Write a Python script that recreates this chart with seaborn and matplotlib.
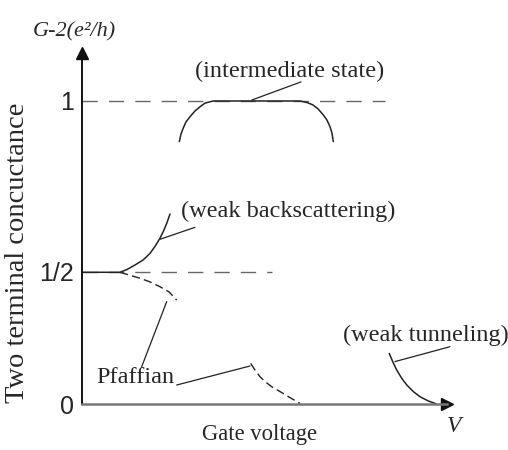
import matplotlib
matplotlib.use("Agg")
import matplotlib.pyplot as plt
import seaborn as sns

sns.set_theme(style="white")

# ---- data (schematic) ----
y_ticks = [0.0, 0.436, 1.0]
y_tick_labels = ["0", "1/2", "1"]

inter_x = [2.666, 2.712, 2.775, 2.849, 2.959, 3.096, 3.233, 3.370, 3.589, 5.973, 6.164, 6.329, 6.466, 6.611, 6.712, 6.795, 6.849, 6.885]
inter_y = [0.866, 0.891, 0.911, 0.931, 0.948, 0.967, 0.981, 0.993, 1.000, 1.000, 0.995, 0.987, 0.974, 0.954, 0.937, 0.915, 0.894, 0.866]

back_x = [0.0, 1.041, 1.233, 1.452, 1.671, 1.863, 2.000, 2.137, 2.233, 2.321, 2.411]
back_y = [0.4347, 0.4347, 0.4439, 0.4587, 0.475, 0.497, 0.520, 0.547, 0.571, 0.596, 0.627]

pf1_x = [1.041, 1.589, 1.863, 2.137, 2.384, 2.595]
pf1_y = [0.4347, 0.415, 0.403, 0.387, 0.370, 0.343]

pf2_x = [4.622, 4.740, 4.877, 5.014, 5.197, 5.425, 5.699, 5.973]
pf2_y = [0.134, 0.112, 0.090, 0.074, 0.057, 0.041, 0.021, 0.002]

tun_x = [8.419, 8.512, 8.622, 8.759, 8.896, 9.077, 9.260, 9.488, 9.718]
tun_y = [0.167, 0.140, 0.112, 0.085, 0.063, 0.041, 0.024, 0.010, 0.0]

fig = plt.figure(figsize=(5.08, 4.5), dpi=100)
ax = fig.add_axes([82/508, 46/450, (447-82)/508, (404-53)/450])
ax.set_xlim(0, 10)
ax.set_ylim(0, 1.1584)

serif = ["Liberation Serif", "DejaVu Serif"]
narrow = ["Liberation Sans Narrow", "Liberation Sans", "DejaVu Sans"]

# dashed reference levels
ax.plot([0, 8.3], [1.0, 1.0], color="#666666", lw=1.0, dashes=(11, 8), clip_on=False)
ax.plot([0, 5.2], [0.4347, 0.4347], color="#666666", lw=1.0, dashes=(11, 8), clip_on=False)

sns.lineplot(x=inter_x, y=inter_y, ax=ax, color="#222222", lw=1.1, sort=False, estimator=None)
sns.lineplot(x=back_x, y=back_y, ax=ax, color="#222222", lw=1.1, sort=False, estimator=None)
ax.plot(pf1_x, pf1_y, color="#222222", lw=1.0, dashes=(6, 3))
ax.plot(pf2_x, pf2_y, color="#222222", lw=1.0, dashes=(6, 3))
sns.lineplot(x=tun_x, y=tun_y, ax=ax, color="#222222", lw=1.1, sort=False, estimator=None)

# leader lines
lead = dict(color="#222222", lw=0.9, clip_on=False)
ax.plot([4.649, 6.00], [1.003, 1.063], **lead)
ax.plot([2.137, 3.096], [0.5436, 0.583], **lead)
ax.plot([1.635, 2.321], [0.123, 0.338], **lead)
ax.plot([2.595, 4.603], [0.0627, 0.1254], **lead)
ax.plot([8.575, 10.08], [0.140, 0.189], **lead)

# annotations
fs_ann = 17.5
ax.text(5.685, 1.096, "(intermediate state)", ha="center", va="center", fontsize=fs_ann, family=serif, clip_on=False)
ax.text(5.644, 0.637, "(weak backscattering)", ha="center", va="center", fontsize=fs_ann, family=serif)
ax.text(1.452, 0.089, "Pfaffian", ha="center", va="center", fontsize=fs_ann, family=serif)
ax.text(9.41, 0.228, "(weak tunneling)", ha="center", va="center", fontsize=fs_ann, family=serif, clip_on=False)

# axes styling
for s in ["top", "right"]:
    ax.spines[s].set_visible(False)
ax.spines["left"].set_color("#111111")
ax.spines["left"].set_linewidth(1.4)
ax.spines["bottom"].set_color("#777777")
ax.spines["bottom"].set_linewidth(1.8)
ax.set_xticks([])
ax.set_yticks(y_ticks)
ax.set_yticklabels(y_tick_labels, family=narrow, fontsize=18)
ax.tick_params(axis="y", length=0, pad=6)
ax.plot(1, 0, ">", color="#111111", ms=8, transform=ax.transAxes, clip_on=False)
ax.plot(0, 1, "^", color="#111111", ms=8, transform=ax.transAxes, clip_on=False)

ax.set_ylabel("Two terminal concuctance", family=serif, fontsize=20.5, va="center")
ax.yaxis.set_label_coords(-0.178, 0.43)
ax.text(4.863, -0.1007, "Gate voltage", ha="center", va="center", fontsize=16.3, family=serif, clip_on=False)
ax.text(10.18, -0.075, "V", ha="center", va="center", fontsize=17, family=serif, style="italic", clip_on=False)
ax.text(-0.219, 1.228, "G-2(e\u00b2/h)", ha="center", va="center", fontsize=16, family=serif, style="italic", clip_on=False)

fig.savefig("out.png", dpi=100)
